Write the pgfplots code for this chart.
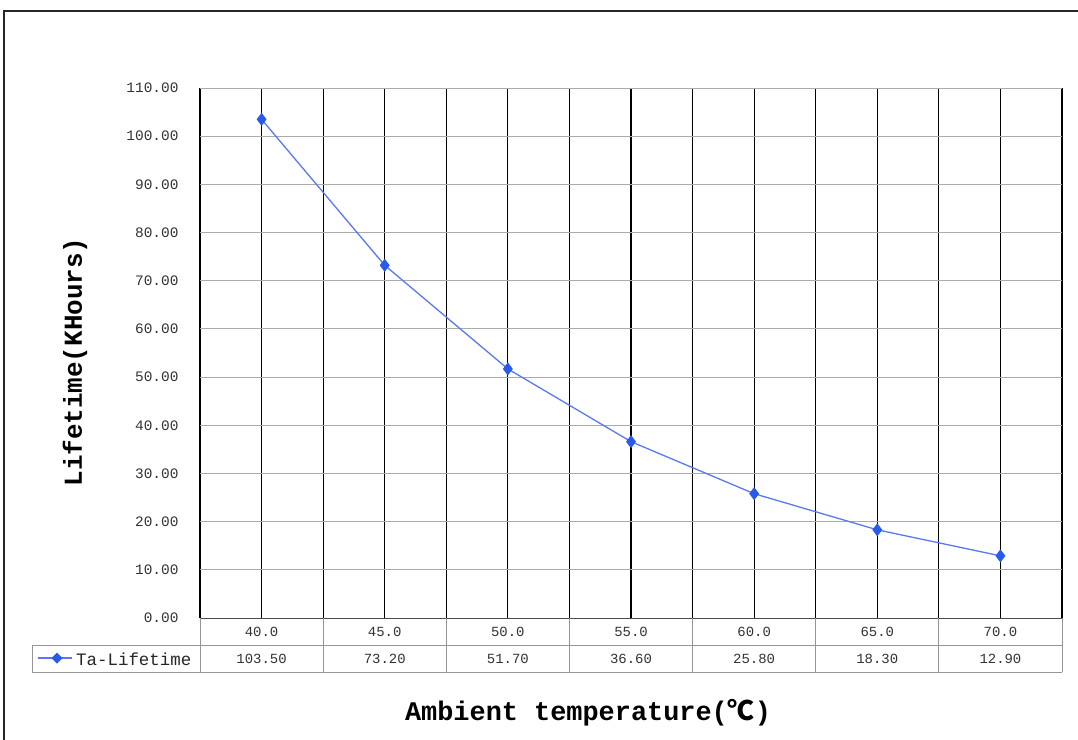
\documentclass[border=0pt]{standalone}
\usepackage{pgfplots}
\pgfplotsset{compat=1.18}
\usepackage{fontspec}
\newfontfamily\mono{Liberation Mono}
\newfontfamily\cjk{Noto Sans CJK SC}
\definecolor{lineblue}{RGB}{90,120,240}
\definecolor{markblue}{RGB}{40,90,235}
\definecolor{gridgray}{RGB}{170,170,170}
\definecolor{tabgray}{RGB}{150,150,150}
\definecolor{ticktext}{RGB}{50,50,50}
\begin{document}
\begin{tikzpicture}
\path[use as bounding box] (0,0) rectangle (1078bp,-740bp);
% outer frame (partial, as cropped)
\draw[black!85, line width=1.6bp] (4bp,-740bp) -- (4bp,-11bp) -- (1078bp,-11bp);
\begin{axis}[
  at={(200bp,-618bp)}, anchor=south west,
  scale only axis, width=862bp, height=530bp,
  xmin=-0.5, xmax=6.5, ymin=0, ymax=110,
  xtick={0,...,6}, minor xtick={-0.5,0.5,...,6.5},
  xticklabels={},
  ytick={0,10,...,110},
  axis line style={draw=none},
  major tick length=0pt, minor tick length=0pt,
  ymajorgrids, xmajorgrids, xminorgrids,
  y grid style={gridgray, line width=0.9bp},
  x grid style={black, line width=1.25bp},
  minor x grid style={black, line width=1.25bp},
  /pgf/number format/assume math mode=true,
  yticklabel={\pgfmathprintnumber[fixed,fixed zerofill,precision=2]{\tick}},
  yticklabel style={font=\fontsize{14.5}{15}\mono, text=ticktext, xshift=-18bp},
  clip=false,
]
\addplot[lineblue, line width=1.3bp, mark=diamond*, mark size=5.5bp,
  mark options={fill=markblue, draw=markblue}]
  coordinates {(0,103.5) (1,73.2) (2,51.7) (3,36.6) (4,25.8) (5,18.3) (6,12.9)};
\end{axis}
% data table
\draw[tabgray, line width=0.9bp] (32bp,-645bp) -- (1062bp,-645bp);
\draw[tabgray, line width=0.9bp] (32bp,-672bp) -- (1062bp,-672bp);
\draw[tabgray, line width=0.9bp] (32bp,-645bp) -- (32bp,-672bp);
\draw[black!70, line width=1bp] (200bp,-618bp) -- (1062bp,-618bp);
\foreach \k in {0,...,7} {
  \pgfmathsetmacro{\xx}{200+123.143*\k}
  \draw[tabgray, line width=0.9bp] (\xx bp,-618bp) -- (\xx bp,-672bp);
}
\foreach \t/\v [count=\i from 0] in {40.0/103.50,45.0/73.20,50.0/51.70,55.0/36.60,60.0/25.80,65.0/18.30,70.0/12.90} {
  \pgfmathsetmacro{\xx}{261.57+123.143*\i}
  \node[font=\fontsize{14}{14}\mono, text=ticktext] at (\xx bp,-632bp) {\t};
  \node[font=\fontsize{14}{14}\mono, text=ticktext] at (\xx bp,-659bp) {\v};
}
% legend key
\draw[lineblue, line width=1.3bp] (38bp,-658bp) -- (72bp,-658bp);
\fill[markblue] (57bp,-652.5bp) -- (62.5bp,-658bp) -- (57bp,-663.5bp) -- (51.5bp,-658bp) -- cycle;
\node[font=\fontsize{17.5}{18}\mono, text=black!85, anchor=west, inner sep=0pt] at (76bp,-659bp) {Ta-Lifetime};
% axis titles
\node[font=\fontsize{27}{28}\mono\bfseries, anchor=center] at (588bp,-713bp) {Ambient temperature({\cjk\bfseries ℃})};
\node[font=\fontsize{26}{28}\mono\bfseries, rotate=90, anchor=center] at (75bp,-362bp) {Lifetime(KHours)};
\end{tikzpicture}
\end{document}
